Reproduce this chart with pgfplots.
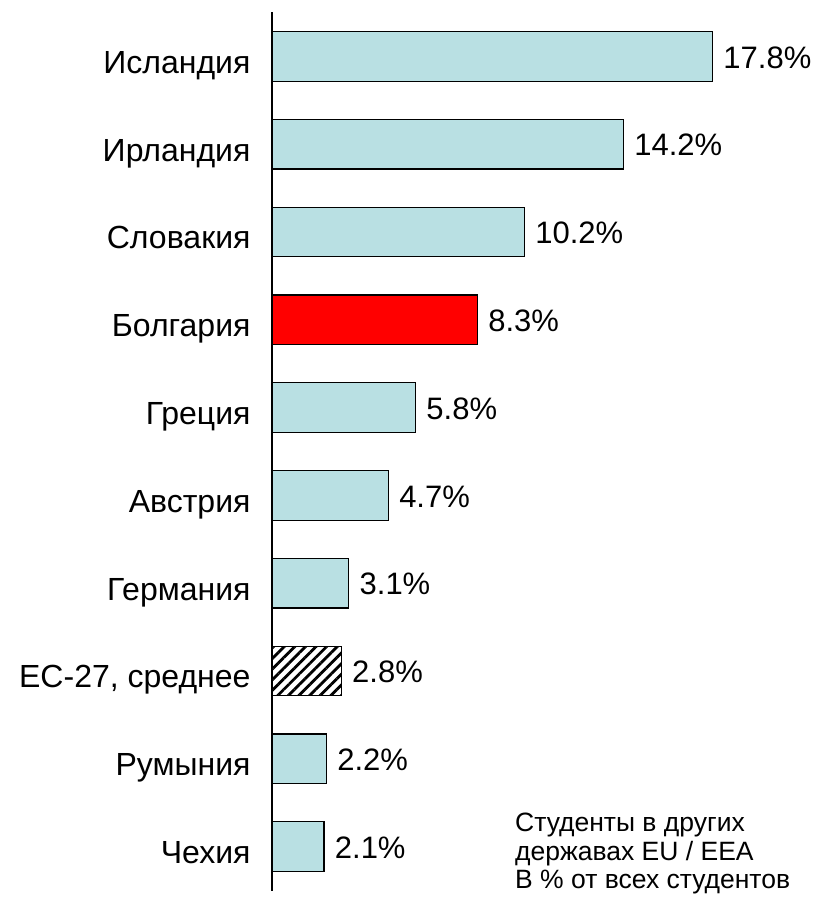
\documentclass[border=0pt]{standalone}
\usepackage{fontspec}
\setmainfont{Liberation Sans}
\usepackage{pgfplots}
\pgfplotsset{compat=1.18}
\usetikzlibrary{patterns.meta}
\definecolor{barblue}{HTML}{B9E0E3}
\begin{document}
\begin{tikzpicture}[x=1pt,y=1pt]
\begin{axis}[
  at={(272pt,8.5pt)}, anchor=south west,
  width=495pt, height=878pt, scale only axis,
  xmin=0, xmax=20, ymin=-0.5, ymax=9.5,
  axis x line=none,
  axis y line=left,
  y axis line style={-, line width=1.3pt, black},
  ytick={0,...,9},
  yticklabels={Чехия,Румыния,{ЕС-27, среднее},Германия,Австрия,Греция,Болгария,Словакия,Ирландия,Исландия},
  major tick length=0pt,
  /pgf/number format/assume math mode=true,
  yticklabel style={font=\fontsize{32}{38}\selectfont, anchor=base east, xshift=-18pt, yshift=-17pt},
  xbar, bar width=0.565, bar shift=0pt,
  nodes near coords={\pgfmathprintnumber[fixed,precision=1,fixed zerofill,assume math mode=true]{\pgfplotspointmeta}\%},
  nodes near coords style={font=\fontsize{31}{37}\selectfont, anchor=west, xshift=7pt, yshift=-1pt, text=black},
  clip=false,
]
\addplot[draw=black, line width=1.2pt, fill=barblue] coordinates {
(2.1,0) (2.2,1) (3.1,3) (4.7,4) (5.8,5) (10.2,7) (14.2,8) (17.8,9)};
\addplot[draw=black, line width=1.2pt, fill=red] coordinates {(8.3,6)};
\addplot[draw=black, line width=1.2pt, pattern={Lines[angle=45, distance=7.5pt, line width=2.8pt]}, pattern color=black] coordinates {(2.8,2)};
\end{axis}
\node[anchor=north west, align=left, font=\fontsize{26.5}{28.5}\selectfont, inner sep=0pt] at (515pt,86pt) {Студенты в других\\державах EU / EEA\\В \% от всех студентов};
\pgfresetboundingbox
\path (0,0) rectangle (818,899);
\end{tikzpicture}
\end{document}
